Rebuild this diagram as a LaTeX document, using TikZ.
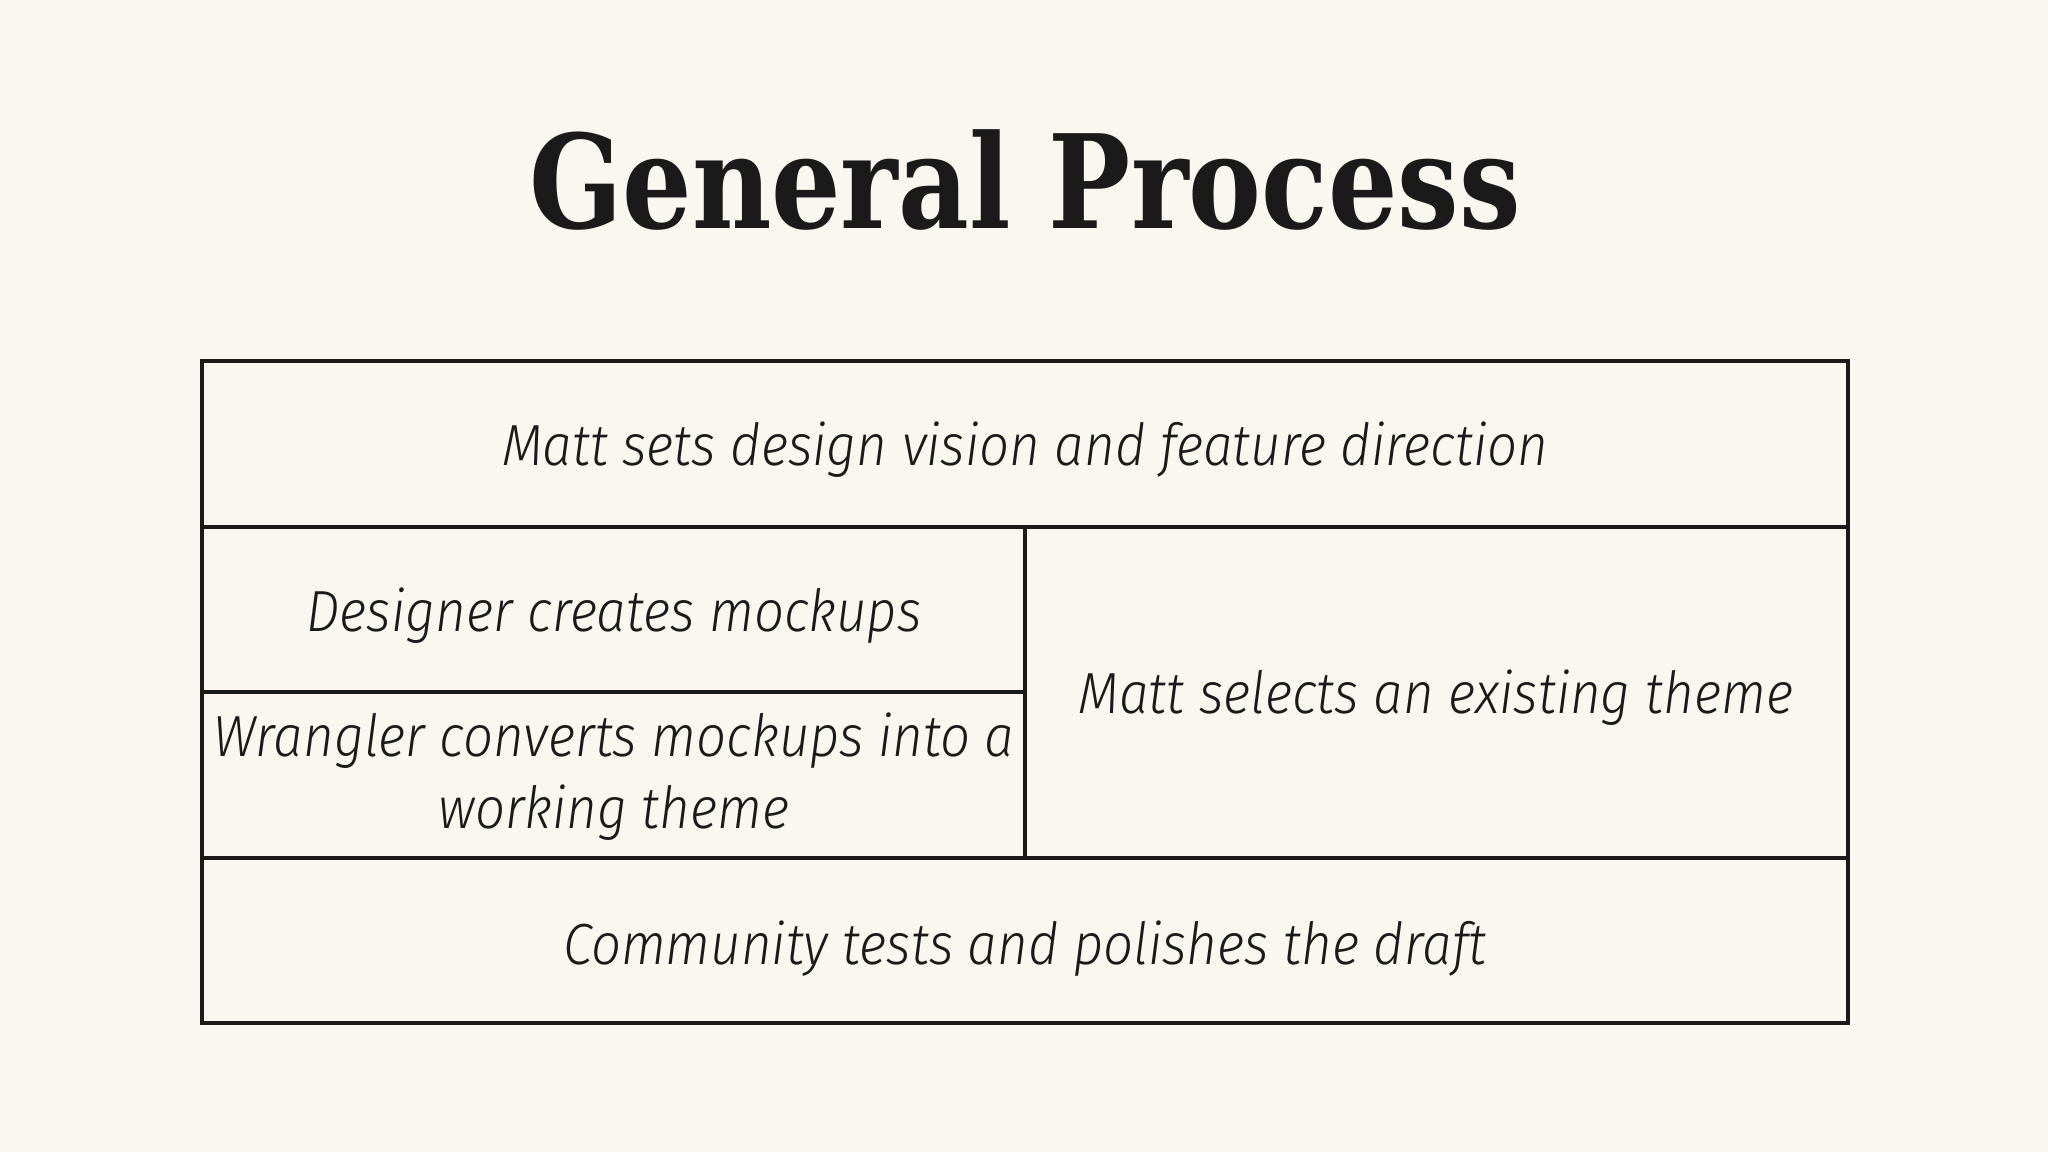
\documentclass[tikz,border=0pt]{standalone}
\usepackage{fontspec}
\newfontfamily\titlefont{DejaVu Serif Bold}[FakeStretch=0.84]
\IfFontExistsTF{Fira Sans Light Italic}{%
  \newfontfamily\bodyfont{Fira Sans Light Italic}[FakeStretch=0.91]}{%
  \newfontfamily\bodyfont{Fira Sans Italic}[FakeStretch=0.91]}
\definecolor{bg}{HTML}{F9F7F0}
\definecolor{ink}{HTML}{1A1A1A}
\begin{document}
\begin{tikzpicture}[x=0.01cm,y=-0.01cm,
  cell/.style={draw=ink,line width=1.1pt},
  txt/.style={anchor=base,text=ink,inner sep=0pt,font=\bodyfont\fontsize{16.5}{20.2}\selectfont,align=center}]
\fill[bg] (0,0) rectangle (2048,1152);
\useasboundingbox (0,0) rectangle (2048,1152);
\node[anchor=base,text=ink,inner sep=0pt,font=\titlefont\fontsize{37}{40}\selectfont] (title) at (1025,229) {General Process};
\coordinate (tl) at (202,361);
\coordinate (br) at (1848,1023);
\draw[cell] (tl) rectangle (br);
\draw[cell] (202,527) coordinate (r1l) -- (1848,527) coordinate (r1r);
\draw[cell] (202,692) coordinate (r2l) -- (1025,692) coordinate (r2r);
\draw[cell] (202,858) coordinate (r3l) -- (1848,858) coordinate (r3r);
\draw[cell] (1025,527) coordinate (vt) -- (1025,858) coordinate (vb);
\node[txt] (vision) at (1025,466) {Matt sets design vision and feature direction};
\node[txt] (designer) at (614,632) {Designer creates mockups};
\node[txt] (wrangler) at (614,828) {Wrangler converts mockups into a\\working theme};
\node[txt] (selects) at (1436,713) {Matt selects an existing theme};
\node[txt] (community) at (1025,964) {Community tests and polishes the draft};
\end{tikzpicture}
\end{document}
